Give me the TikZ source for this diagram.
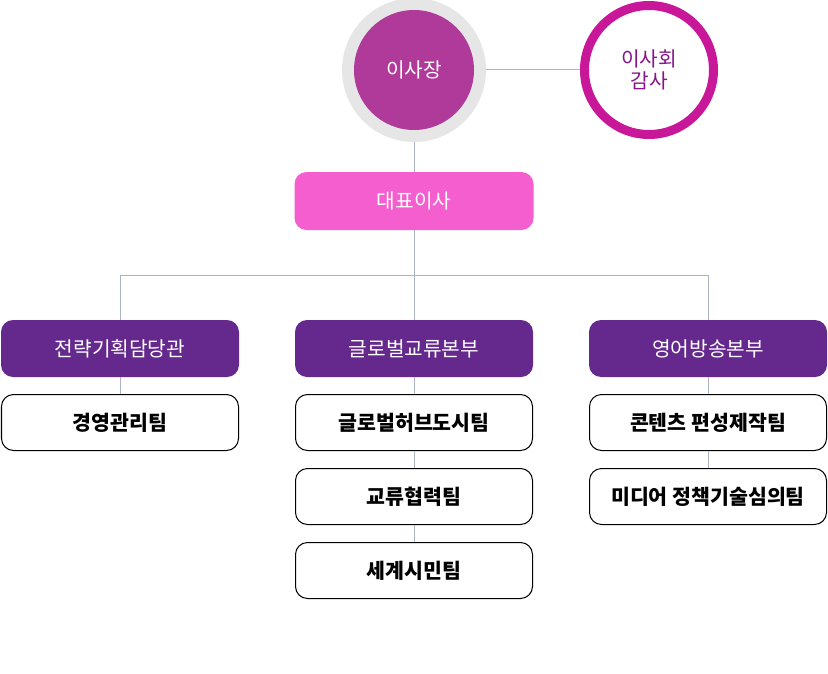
\documentclass[tikz,border=0pt]{standalone}
\usepackage{fontspec}
\newfontfamily\kr{Noto Sans CJK KR}
\definecolor{linegray}{HTML}{A9B3C1}
\definecolor{ringgray}{HTML}{E6E6E6}
\definecolor{chairpurple}{HTML}{B03A9A}
\definecolor{auditmag}{HTML}{C9179A}
\definecolor{audittext}{HTML}{85168A}
\definecolor{ceopink}{HTML}{F45ECF}
\definecolor{headpurple}{HTML}{65298D}
\tikzset{
  conn/.style={draw=linegray, line width=0.75pt},
  headbox/.style={fill=headpurple, text=white, minimum width=238*0.75pt, minimum height=57*0.75pt, rounded corners=9pt, inner sep=0pt, font=\kr\fontsize{15.2}{18}\selectfont},
  teambox/.style={draw=black, line width=0.75pt, fill=white, text=black, minimum width=237*0.75pt, minimum height=56*0.75pt, rounded corners=9pt, inner sep=0pt, font=\kr\bfseries\fontsize{15.4}{18}\selectfont},
}
\begin{document}
\begin{tikzpicture}[x=0.75pt, y=-0.75pt]
\useasboundingbox (0,0) rectangle (828,674);
% circles
\node[circle, fill=ringgray, minimum size=144*0.75pt, inner sep=0pt] (chairring) at (414,70) {};
\node[circle, fill=chairpurple, minimum size=120*0.75pt, inner sep=0pt, text=white, font=\kr\fontsize{15.2}{18}\selectfont] (chair) at (414,70) {이사장};
\node[circle, draw=auditmag, line width=9*0.75pt, fill=white, minimum size=129*0.75pt, inner sep=0pt, text=audittext, align=center, font=\kr\fontsize{15.2}{16.5}\selectfont] (audit) at (649,70) {이사회\\감사};
% CEO
\node[fill=ceopink, text=white, minimum width=239*0.75pt, minimum height=58*0.75pt, rounded corners=9pt, inner sep=0pt, font=\kr\fontsize{15.2}{18}\selectfont] (ceo) at (414,201) {대표이사};
% headers
\node[headbox] (h1) at (120,348.5) {전략기획담당관};
\node[headbox] (h2) at (414,348.5) {글로벌교류본부};
\node[headbox] (h3) at (708,348.5) {영어방송본부};
% teams
\node[teambox] (t1) at (120,422.5) {경영관리팀};
\node[teambox] (t21) at (414,422.5) {글로벌허브도시팀};
\node[teambox] (t22) at (414,496.5) {교류협력팀};
\node[teambox] (t23) at (414,570.5) {세계시민팀};
\node[teambox] (t31) at (708,422.5) {콘텐츠 편성제작팀};
\node[teambox] (t32) at (708,496.5) {미디어 정책기술심의팀};
% connectors
\coordinate (bus) at (414,275);
\draw[conn] (chairring.east) -- (audit.west);
\draw[conn] (chairring.south) -- (ceo.north);
\draw[conn] (ceo.south) -- (bus);
\draw[conn] (h1.north) -- (120,275) -- (708,275) -- (h3.north);
\draw[conn] (bus) -- (h2.north);
\draw[conn] (h1.south) -- (t1.north);
\draw[conn] (h2.south) -- (t21.north);
\draw[conn] (t21.south) -- (t22.north);
\draw[conn] (t22.south) -- (t23.north);
\draw[conn] (h3.south) -- (t31.north);
\draw[conn] (t31.south) -- (t32.north);
\end{tikzpicture}
\end{document}
